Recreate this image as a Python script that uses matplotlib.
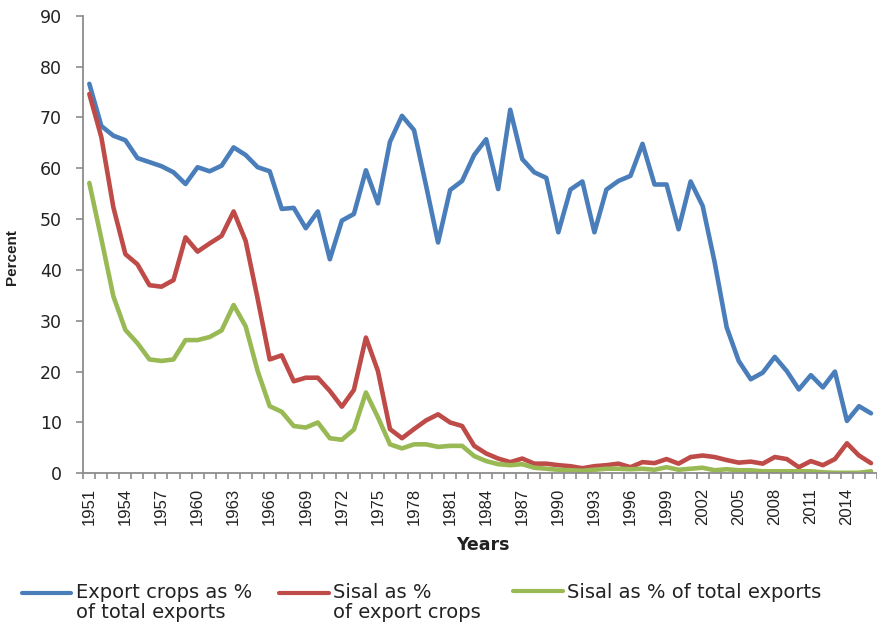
import numpy as np
import matplotlib
matplotlib.use("Agg")
import matplotlib.pyplot as plt
from matplotlib.lines import Line2D
from matplotlib.legend_handler import HandlerLine2D

years = list(range(1951, 2017))

export_crops = [76.6, 68.3, 66.4, 65.5, 62.0, 61.2, 60.4, 59.2, 56.9, 60.2,
                59.4, 60.5, 64.1, 62.6, 60.2, 59.4, 52.0, 52.2, 48.2, 51.5,
                42.1, 49.7, 51.0, 59.6, 53.1, 65.2, 70.3, 67.5, 56.6, 45.4,
                55.7, 57.5, 62.6, 65.7, 55.9, 71.5, 61.8, 59.2, 58.1, 47.4,
                55.8, 57.4, 47.4, 55.8, 57.5, 58.5, 64.8, 56.8, 56.8, 48.0,
                57.4, 52.6, 41.5, 28.7, 22.1, 18.5, 19.8, 22.9, 20.1, 16.5,
                19.3, 16.9, 20.0, 10.3, 13.2, 11.8]

sisal_crops = [74.6, 66.1, 52.3, 43.1, 41.1, 37.0, 36.7, 38.0, 46.4, 43.6,
               45.2, 46.7, 51.5, 45.7, 34.3, 22.4, 23.2, 18.1, 18.8, 18.8,
               16.2, 13.1, 16.4, 26.7, 20.1, 8.7, 6.9, 8.7, 10.4, 11.6,
               10.0, 9.3, 5.4, 3.9, 2.9, 2.2, 2.9, 1.9, 1.9, 1.6,
               1.4, 1.0, 1.4, 1.6, 1.9, 1.2, 2.2, 2.0, 2.8, 1.9,
               3.2, 3.5, 3.2, 2.6, 2.1, 2.3, 1.9, 3.2, 2.8, 1.2,
               2.4, 1.6, 2.8, 5.9, 3.5, 2.0]

sisal_total = [57.1, 46.1, 34.8, 28.2, 25.6, 22.4, 22.1, 22.4, 26.2, 26.2,
               26.8, 28.1, 33.1, 28.9, 20.1, 13.2, 12.1, 9.3, 9.0, 10.0,
               6.9, 6.6, 8.6, 15.9, 11.0, 5.7, 4.9, 5.7, 5.7, 5.2,
               5.4, 5.4, 3.4, 2.4, 1.8, 1.6, 1.8, 1.1, 0.9, 0.7,
               0.6, 0.5, 0.7, 0.9, 0.9, 0.8, 0.9, 0.7, 1.2, 0.7,
               0.9, 1.1, 0.6, 0.8, 0.6, 0.6, 0.4, 0.4, 0.4, 0.4,
               0.4, 0.2, 0.1, 0.1, 0.1, 0.4]

labels = ["Export crops as %\nof total exports",
          "Sisal as %\nof export crops",
          "Sisal as % of total exports"]
colors = ["#4A7EBB", "#BE4B48", "#98B954"]

narrow = ["Liberation Sans", "DejaVu Sans"]
axis_grey = "#8c8c8c"
txt = "#222222"


class TopHandler(HandlerLine2D):
    # put the legend line level with the first text line
    def __init__(self, dy=0.0, **kw):
        super().__init__(**kw)
        self.dy = dy

    def create_artists(self, legend, orig_handle, xdescent, ydescent,
                       width, height, fontsize, trans):
        arts = super().create_artists(legend, orig_handle, xdescent, ydescent,
                                      width, height, fontsize, trans)
        for a in arts:
            a.set_ydata(np.asarray(a.get_ydata(), dtype=float) + self.dy)
        return arts


fig = plt.figure(figsize=(8.77, 6.25), dpi=100)
ax = fig.add_axes([0.095, 0.2427, 0.905, 0.7322])

x = np.arange(len(years))
handles = []
for vals, c, lab in zip([export_crops, sisal_crops, sisal_total], colors, labels):
    ln, = ax.plot(x, vals, color=c, lw=3.3, solid_joinstyle="round",
                  solid_capstyle="round", label=lab)
    handles.append(ln)

ax.set_xlim(-0.5, 65.15)
ax.set_ylim(0, 90)
ax.set_yticks(range(0, 91, 10))
ax.tick_params(axis="y", length=4.8, width=1.2, color=axis_grey, pad=10.8,
               labelsize=12.5, labelcolor=txt)

# ticks between categories, labels every third year
ax.set_xticks(np.arange(-0.5, len(years), 1))
ax.set_xticklabels([])
ax.set_xticks(x[::3], minor=True)
ax.set_xticklabels([str(y) for y in years[::3]], minor=True, rotation=90,
                   family=narrow, fontsize=12, color=txt)
ax.tick_params(axis="x", which="major", length=4.3, width=1.2, color=axis_grey)
ax.tick_params(axis="x", which="minor", length=0, pad=10.5)

for s in ["top", "right"]:
    ax.spines[s].set_visible(False)
for s in ["left", "bottom"]:
    ax.spines[s].set_color(axis_grey)
    ax.spines[s].set_linewidth(1.3)

fig.text(12 / 877, 1 - 257 / 625, "Percent", rotation=90, ha="center",
         va="center", weight="bold", family=narrow, fontsize=11, color=txt)
fig.text(483 / 877, 1 - 545 / 625, "Years", ha="center", va="center",
         weight="bold", fontsize=12.5, color=txt)

anchors = [21.7, 279, 513]
shifts = [7.5, 7.5, 0.0]
for h, a, dy in zip(handles, anchors, shifts):
    proxy = Line2D([], [], color=h.get_color(), lw=3.0, solid_capstyle="round")
    leg = fig.legend([proxy], [h.get_label()], loc="upper left",
                     bbox_to_anchor=(a / 877, 1 - 583 / 625),
                     frameon=False, fontsize=14, borderpad=0,
                     borderaxespad=0, handlelength=2.55, handletextpad=0.22,
                     handler_map={proxy: TopHandler(dy=dy)})
    for t in leg.get_texts():
        t.set_color(txt)
        t.set_linespacing(1.05)

fig.savefig("out.png", dpi=100)
